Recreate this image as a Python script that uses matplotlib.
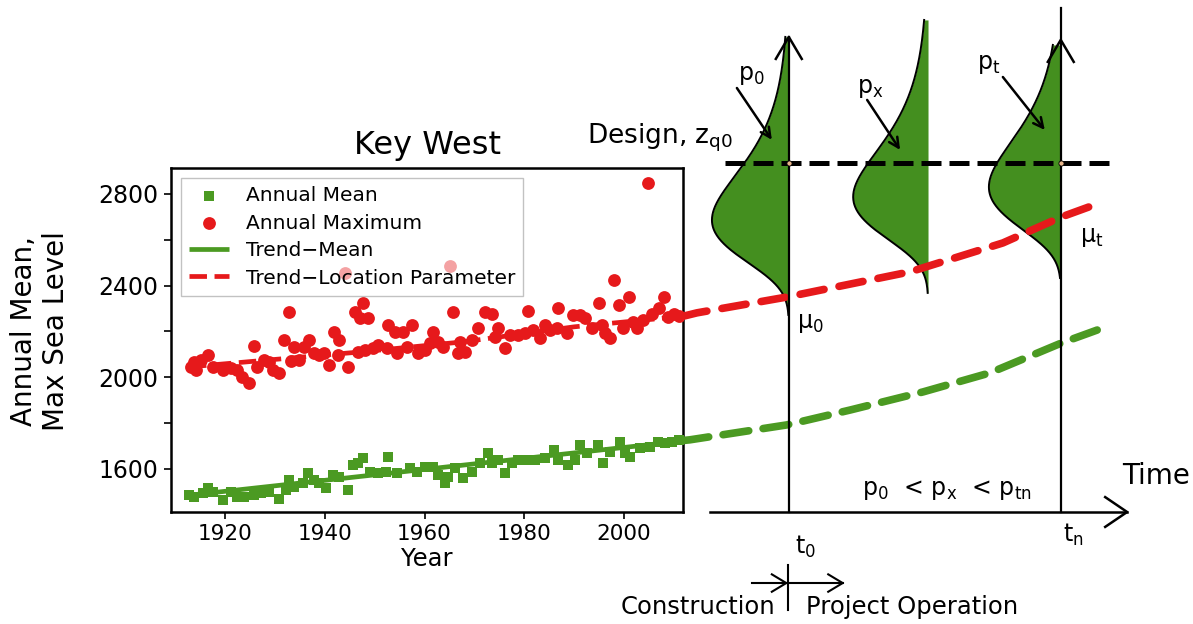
import matplotlib
matplotlib.use("Agg")
import matplotlib.pyplot as plt
import numpy as np

# ---------------- data ----------------
max_years = [1913.2, 1913.8, 1914.3, 1915.2, 1916.7, 1917.7, 1919.6, 1921.2, 1922.5, 1923.5,
             1924.8, 1925.8, 1926.4, 1927.8, 1928.8, 1929.6, 1930.9, 1931.8, 1932.8, 1933.2,
             1933.9, 1934.8, 1935.8, 1936.9, 1937.8, 1938.8, 1939.9, 1940.8, 1941.9, 1942.7,
             1942.9, 1944.0, 1944.6, 1946.1, 1946.7, 1947.1, 1947.7, 1948.0, 1948.7, 1949.7,
             1950.6, 1952.5, 1952.6, 1954.0, 1954.5, 1955.7, 1956.5, 1957.4, 1958.7, 1960.0,
             1961.1, 1961.7, 1962.7, 1963.7, 1965.1, 1965.7, 1966.8, 1967.1, 1968.1, 1969.5,
             1970.7, 1972.1, 1973.5, 1974.1, 1974.7, 1976.2, 1977.1, 1978.8, 1980.1, 1980.7,
             1981.7, 1983.1, 1984.1, 1985.2, 1986.5, 1986.7, 1988.5, 1989.8, 1991.2, 1992.2,
             1993.5, 1995.0, 1995.5, 1996.1, 1997.2, 1997.9, 1998.9, 1999.7, 2000.9, 2001.7,
             2002.6, 2003.7, 2004.8, 2005.6, 2006.9, 2008.0, 2008.8, 2010.0, 2011.0]
max_vals = [2043, 2065, 2030, 2074, 2096, 2043, 2030, 2039, 2030, 2000,
            1974, 2135, 2043, 2074, 2065, 2030, 2017, 2161, 2283, 2070,
            2130, 2074, 2130, 2161, 2104, 2096, 2104, 2052, 2196, 2096,
            2161, 2455, 2043, 2283, 2109, 2257, 2322, 2117, 2257, 2126,
            2139, 2126, 2226, 2196, 2104, 2196, 2130, 2226, 2104, 2117,
            2148, 2196, 2152, 2130, 2486, 2283, 2104, 2152, 2109, 2161,
            2213, 2283, 2278, 2174, 2217, 2126, 2183, 2183, 2191, 2291,
            2204, 2170, 2226, 2204, 2217, 2300, 2191, 2270, 2270, 2257,
            2217, 2326, 2226, 2191, 2170, 2426, 2317, 2217, 2352, 2239,
            2213, 2248, 2848, 2278, 2304, 2352, 2261, 2275, 2268]

mean_years = [1912.8, 1913.8, 1915.7, 1916.7, 1917.7, 1919.6, 1921.2, 1922.5, 1923.8, 1925.8,
              1927.2, 1928.8, 1930.9, 1932.2, 1932.8, 1933.9, 1935.6, 1936.7, 1937.8, 1938.8,
              1940.3, 1941.6, 1942.9, 1944.6, 1945.7, 1946.7, 1947.7, 1949.1, 1950.6, 1952.3,
              1952.6, 1954.5, 1957.0, 1958.4, 1960.0, 1961.7, 1962.7, 1964.1, 1964.7, 1966.2,
              1967.7, 1969.5, 1971.1, 1972.8, 1973.5, 1974.7, 1976.2, 1977.5, 1978.8, 1980.1,
              1982.2, 1984.1, 1986.0, 1986.7, 1988.8, 1990.1, 1991.2, 1992.6, 1994.8, 1995.8,
              1997.2, 1999.1, 2000.1, 2001.2, 2003.2, 2005.1, 2006.8, 2008.1, 2009.5, 2011.0]
mean_vals = [1487, 1478, 1496, 1517, 1500, 1465, 1500, 1478, 1478, 1487,
             1496, 1500, 1470, 1509, 1552, 1522, 1539, 1583, 1552, 1539,
             1517, 1574, 1565, 1509, 1617, 1626, 1648, 1587, 1583, 1587,
             1652, 1583, 1604, 1587, 1609, 1609, 1574, 1539, 1565, 1604,
             1561, 1587, 1626, 1670, 1626, 1639, 1583, 1626, 1639, 1639,
             1639, 1648, 1683, 1639, 1617, 1639, 1704, 1670, 1704, 1626,
             1674, 1717, 1670, 1652, 1691, 1696, 1717, 1713, 1718, 1724]

trend_mean_years = [1912.8, 2011.8]
trend_mean_vals = [1485, 1722]
trend_loc_years = [1912.8, 1948.0, 1968.0, 1990.0, 2011.8]
trend_loc_vals = [2045, 2112, 2155, 2220, 2266]

# projections beyond the record (schematic)
proj_loc_years = [2011.8, 2014.6, 2032.6, 2057.3, 2075.9, 2087.7, 2095.4]
proj_loc_vals = [2266, 2281, 2350, 2460, 2586, 2700, 2761]
proj_mean_years = [2011.8, 2013.2, 2032.6, 2045.3, 2059.9, 2073.3, 2087.7, 2094.8]
proj_mean_vals = [1724, 1727, 1792, 1857, 1936, 2019, 2150, 2206]

x_ticks = [1920, 1940, 1960, 1980, 2000]
y_ticks = [1600, 1800, 2000, 2200, 2400, 2600, 2800]
y_tick_labels = ["1600", "", "2000", "", "2400", "", "2800"]

# ---------------- schematic layout (in data units) ----------------
T0, TX, TN = 2033.0, 2060.9, 2087.5
DESIGN = 2935
BASE = 1412
dists = [  # axis year, mode, low, high, width (years)
    (T0, 2686, 2272, 3485, 15.4),
    (TX, 2787, 2368, 3559, 15.0),
    (TN, 2830, 2433, 3450, 14.4),
]
BETA = 196

GREEN = "#4b9a22"
FILLG = "#448f1f"
RED = "#e6191b"

W, H = 1193, 624
fig = plt.figure(figsize=(W / 100, H / 100), dpi=100)
ax = fig.add_axes([171 / W, 1 - 512 / H, (683 - 171) / W, (512 - 168) / H])
ax.set_xlim(1909.2, 2011.8)
ax.set_ylim(BASE, 2913)

sc1 = ax.scatter(mean_years, mean_vals, marker="s", s=42, color=GREEN, linewidths=0, zorder=3,
                 label="Annual Mean")
sc2 = ax.scatter(max_years, max_vals, marker="o", s=85, color=RED, linewidths=0, zorder=3,
                 label="Annual Maximum")
l1, = ax.plot(trend_mean_years, trend_mean_vals, color=GREEN, lw=3.4, zorder=4,
              solid_capstyle="butt", label="Trend\u2212Mean")
l2, = ax.plot(trend_loc_years, trend_loc_vals, color=RED, lw=3.4, ls="--", zorder=4,
              label="Trend\u2212Location Parameter")

leg = ax.legend(handles=[sc1, sc2, l1, l2], loc="upper left", fontsize=14.5, frameon=True,
                fancybox=False, edgecolor="#9a9a9a", framealpha=0.6, borderaxespad=0.5,
                labelspacing=0.42, handlelength=2.0, handletextpad=0.8, borderpad=0.4,
                scatterpoints=1)
leg.get_frame().set_linewidth(1.0)
leg.set_zorder(5)

for s in ax.spines.values():
    s.set_linewidth(1.8)
ax.set_xticks(x_ticks)
ax.set_yticks(y_ticks)
ax.set_yticklabels(y_tick_labels)
ax.tick_params(axis="y", labelsize=17, length=5, width=1.2, pad=4)
ax.tick_params(axis="x", labelsize=15.5, length=5, width=1.2, pad=4)
ax.set_xlabel("Year", fontsize=17.5, labelpad=2)
ax.set_title("Key West", fontsize=23, pad=10)
fig.text(40 / W, 1 - 331 / H, "Annual Mean,\nMax Sea Level", rotation=90, fontsize=20,
         ha="center", va="center", linespacing=1.15)

# ---------------- schematic on the right ----------------
kw = dict(clip_on=False)
for (axx, mode, lo, hi, wid) in dists:
    z = np.linspace(lo, hi, 400)
    t = (z - mode) / BETA
    f = np.exp(-t - np.exp(-t) + 1.0)
    xc = axx - wid * f
    ax.fill_betweenx(z, xc, axx, color=FILLG, lw=0, zorder=2, **kw)
    ax.plot(xc, z, color="k", lw=1.4, zorder=3, **kw)

ax.plot(proj_loc_years, proj_loc_vals, color=RED, lw=5.5, dashes=(3.2, 2.0),
        dash_capstyle="round", zorder=4, **kw)
ax.plot(proj_mean_years, proj_mean_vals, color=GREEN, lw=5.5, dashes=(3.4, 1.9),
        dash_capstyle="round", zorder=4, **kw)

ax.plot([2020.2, 2097.4], [DESIGN, DESIGN], color="k", lw=3.6, dashes=(4, 1.6), zorder=5, **kw)

# vertical time-axes with arrow heads
ax.plot([T0, T0], [BASE, 3485], color="k", lw=1.6, zorder=6, **kw)
ax.plot([TN, TN], [BASE, 3611], color="k", lw=1.6, zorder=6, **kw)
for (axx, tip) in [(T0, 3485), (TN, 3472)]:
    ax.plot([axx - 2.6, axx, axx + 2.6], [tip - 96, tip, tip - 96], color="k", lw=1.8,
            zorder=6, **kw)
# horizontal time axis
ax.plot([2017.2, 2100.8], [BASE, BASE], color="k", lw=1.8, zorder=6, **kw)
ax.plot([2096.4, 2100.8, 2096.4], [BASE + 65, BASE, BASE - 65], color="k", lw=1.8, zorder=6, **kw)

# intersection dots
ax.scatter([T0, TN], [DESIGN, DESIGN], s=14, facecolor="#e9b58a", edgecolor="k",
           linewidths=0.6, zorder=7, **kw)

# probability arrows
for (x0, y0, x1, y1) in [(2022.6, 3262, 2029.6, 3036), (2048.7, 3210, 2055.3, 2992),
                         (2075.9, 3310, 2084.3, 3079)]:
    ax.annotate("", xy=(x1, y1), xytext=(x0, y0), annotation_clip=False,
                arrowprops=dict(arrowstyle="->,head_length=0.7,head_width=0.35", lw=1.8,
                                color="k", shrinkA=0, shrinkB=0), zorder=7)

tk = dict(fontsize=17, color="k", zorder=8)
ax.text(2022.8, 3320, r"p$_0$", ha="left", va="center", **tk)
ax.text(2046.6, 3262, r"p$_\mathregular{x}$", ha="left", va="center", **tk)
ax.text(2070.7, 3365, r"p$_\mathregular{t}$", ha="left", va="center", **tk)
ax.text(2034.6, 2237, r"μ$_0$", ha="left", va="center", **tk)
ax.text(2091.3, 2612, r"μ$_\mathregular{t}$", ha="left", va="center", **tk)
ax.text(1992.5, 3044, r"Design, z$_\mathregular{q0}$", ha="left", va="center", fontsize=19)
ax.text(2106.6, 1569, "Time", ha="center", va="center", fontsize=20)
ax.text(2047.7, 1487, r"p$_0$  < p$_\mathregular{x}$  < p$_\mathregular{tn}$", ha="left",
        va="baseline", fontsize=17)
ax.text(2034.2, 1260, r"t$_0$", ha="left", va="center", fontsize=17)
ax.text(2087.9, 1312, r"t$_\mathregular{n}$", ha="left", va="center", fontsize=17)
ax.text(2030.2, 998, "Construction", ha="right", va="center", fontsize=17.5)
ax.text(2036.4, 998, "Project Operation", ha="left", va="center", fontsize=17.5)

# construction / operation arrows
YA = 1102
ax.plot([2025.6, 2032.5], [YA, YA], color="k", lw=1.5, **kw)
ax.plot([2029.6, 2032.5, 2029.6], [YA + 38, YA, YA - 38], color="k", lw=1.5, **kw)
ax.plot([2032.8, 2032.8], [985, 1181], color="k", lw=1.5, **kw)
ax.plot([2033.2, 2043.8], [YA, YA], color="k", lw=1.5, **kw)
ax.plot([2040.9, 2043.8, 2040.9], [YA + 38, YA, YA - 38], color="k", lw=1.5, **kw)

fig.savefig("out.png", dpi=100)
